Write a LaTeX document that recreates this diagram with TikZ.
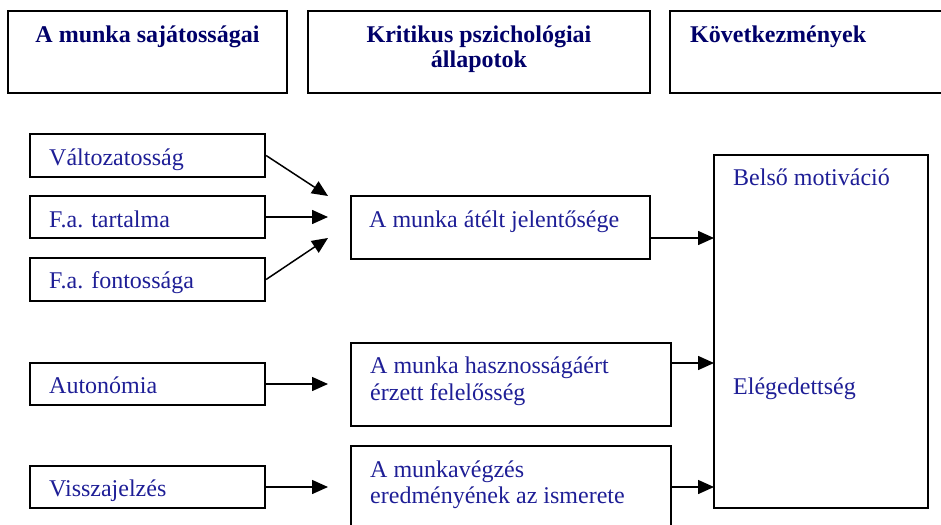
\documentclass[tikz,border=0pt]{standalone}
\usepackage{fontspec}
\setmainfont{Liberation Serif}
\usetikzlibrary{arrows.meta,fit}
\definecolor{bodyblue}{RGB}{30,30,150}
\definecolor{headnavy}{RGB}{0,0,105}
\begin{document}
\begin{tikzpicture}[x=1pt,y=-1pt,
  box/.style={draw=black, line width=2.2pt, inner sep=0pt},
  head/.style={text=headnavy, font=\fontsize{24}{27}\selectfont\bfseries, inner sep=0pt},
  txt/.style={text=bodyblue, font=\fontsize{24}{27}\selectfont, inner sep=0pt, anchor=base west},
  arr/.style={line width=1.5pt, -{Triangle[length=16pt,width=14pt]}}]

\useasboundingbox (0,0) rectangle (941,524);
\clip (0,0) rectangle (941,524);

% column headers
\node[box, fit={(8,11)(287,93)}] (hA) {};
\node[box, fit={(308,11)(650,93)}] (hB) {};
\node[box, fit={(670,11)(960,93)}] (hC) {};
\node[head, anchor=base] (hAt) at (147.5,43) {A munka sajátosságai};
\node[head, anchor=base] (hBt1) at (479,43) {Kritikus pszichológiai};
\node[head, anchor=base] (hBt2) at (479,68) {állapotok};
\node[head, anchor=base west] (hCt) at (690,43) {Következmények};

% job characteristics
\node[box, fit={(30,134)(265,177)}] (var) {};
\node[txt] (vart) at (49,165) {Változatosság};
\node[box, fit={(30,196)(265,238)}] (cont) {};
\node[txt] (contt) at (49,227) {F.a. tartalma};
\node[box, fit={(30,258)(265,301)}] (imp) {};
\node[txt] (impt) at (49,288) {F.a. fontossága};
\node[box, fit={(30,363)(265,405)}] (aut) {};
\node[txt] (autt) at (49,393) {Autonómia};
\node[box, fit={(30,466)(265,508)}] (fb) {};
\node[txt] (fbt) at (49,496) {Visszajelzés};

% critical psychological states
\node[box, fit={(351,196)(650,259)}] (mean) {};
\node[txt] (meant) at (369,227) {A munka átélt jelentősége};
\node[box, fit={(351,343)(671,426)}] (resp) {};
\node[txt] (respt1) at (370,373) {A munka hasznosságáért};
\node[txt] (respt2) at (370,400) {érzett felelősség};
\node[box, fit={(351,446)(671,560)}] (know) {};
\node[txt] (knowt1) at (370,477) {A munkavégzés};
\node[txt] (knowt2) at (370,503) {eredményének az ismerete};

% outcomes
\node[box, fit={(714,155)(928,508)}] (out) {};
\node[txt] (outt1) at (733,185) {Belső motiváció};
\node[txt] (outt2) at (733,394) {Elégedettség};

% arrow end points
\coordinate (p1) at (328,196);
\coordinate (p2) at (328,217);
\coordinate (p3) at (328,238);
\coordinate (p4) at (328,384);
\coordinate (p5) at (328,487);
\coordinate (q1) at (714,238);
\coordinate (q2) at (714,363);
\coordinate (q3) at (714,487);

\draw[arr] (var.east) -- (p1);
\draw[arr] (cont.east) -- (p2);
\draw[arr] (imp.east) -- (p3);
\draw[arr] (aut.east) -- (p4);
\draw[arr] (fb.east) -- (p5);
\draw[arr] (mean.east |- q1) -- (q1);
\draw[arr] (resp.east |- q2) -- (q2);
\draw[arr] (know.east |- q3) -- (q3);
\end{tikzpicture}
\end{document}
